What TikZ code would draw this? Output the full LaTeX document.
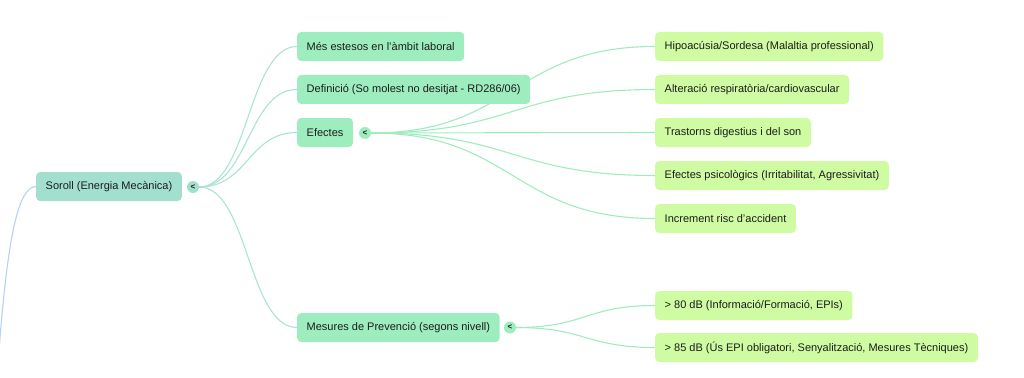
\documentclass[tikz,border=0pt]{standalone}
\usepackage{fontspec}
\setmainfont{Liberation Sans}
\usetikzlibrary{backgrounds}
\definecolor{rootc}{RGB}{163,223,206}
\definecolor{lvone}{RGB}{157,237,191}
\definecolor{lvtwo}{RGB}{207,252,162}
\definecolor{linea}{RGB}{170,228,212}
\definecolor{lineb}{RGB}{160,236,192}
\definecolor{bluel}{RGB}{184,208,245}
\definecolor{txt}{RGB}{28,28,28}
\tikzset{
  box/.style={anchor=west, rounded corners=4pt, minimum height=29pt, inner xsep=9.5pt, inner ysep=0pt,
    text=txt, font=\fontsize{11}{13}\selectfont},
  rootbox/.style={box, fill=rootc},
  onebox/.style={box, fill=lvone},
  twobox/.style={box, fill=lvtwo},
  knob/.style={circle, minimum size=12pt, inner sep=0pt, text=txt, font=\fontsize{8}{8}\selectfont\bfseries},
  conn/.style={line width=1.1pt},
}
\begin{document}
\begin{tikzpicture}[x=1pt,y=-1pt]
\useasboundingbox (0,0) rectangle (1024,377);
% nodes
\node[rootbox] (so) at (36,186.5) {Soroll (Energia Mecànica)};
\node[knob, fill=rootc] (sk) at (193,187) {<};
\node[onebox] (a1) at (297,46.5) {Més estesos en l'àmbit laboral};
\node[onebox] (a2) at (297,89.5) {Definició (So molest no desitjat - RD286/06)};
\node[onebox] (a3) at (297,132.5) {Efectes};
\node[knob, fill=lvone] (ek) at (365,133) {<};
\node[onebox] (a4) at (297,327.5) {Mesures de Prevenció (segons nivell)};
\node[knob, fill=lvone] (mk) at (510,327.5) {<};
\node[twobox] (b1) at (655,46.5) {Hipoacúsia/Sordesa (Malaltia professional)};
\node[twobox] (b2) at (655,89.5) {Alteració respiratòria/cardiovascular};
\node[twobox] (b3) at (655,132.5) {Trastorns digestius i del son};
\node[twobox] (b4) at (655,175.5) {Efectes psicològics (Irritabilitat, Agressivitat)};
\node[twobox] (b5) at (655,218.5) {Increment risc d'accident};
\node[twobox] (c1) at (655,305.5) {> 80 dB (Informació/Formació, EPIs)};
\node[twobox] (c2) at (655,347.5) {> 85 dB (Ús EPI obligatori, Senyalització, Mesures Tècniques)};
\coordinate (up) at (-3,377);
\begin{pgfonlayer}{background}
\draw[conn, bluel] (so.west) .. controls (16,187) and (6,250) .. (up);
\foreach \t in {a1,a2,a3,a4}
  \draw[conn, linea] (sk.east) .. controls +(49,0) and +(-49,0) .. (\t.west);
\foreach \t in {b1,b2,b3,b4,b5}
  \draw[conn, lineb] (ek.east) .. controls +(142,0) and +(-142,0) .. (\t.west);
\foreach \t in {c1,c2}
  \draw[conn, lineb] (mk.east) .. controls +(69,0) and +(-69,0) .. (\t.west);
\end{pgfonlayer}
\end{tikzpicture}
\end{document}
